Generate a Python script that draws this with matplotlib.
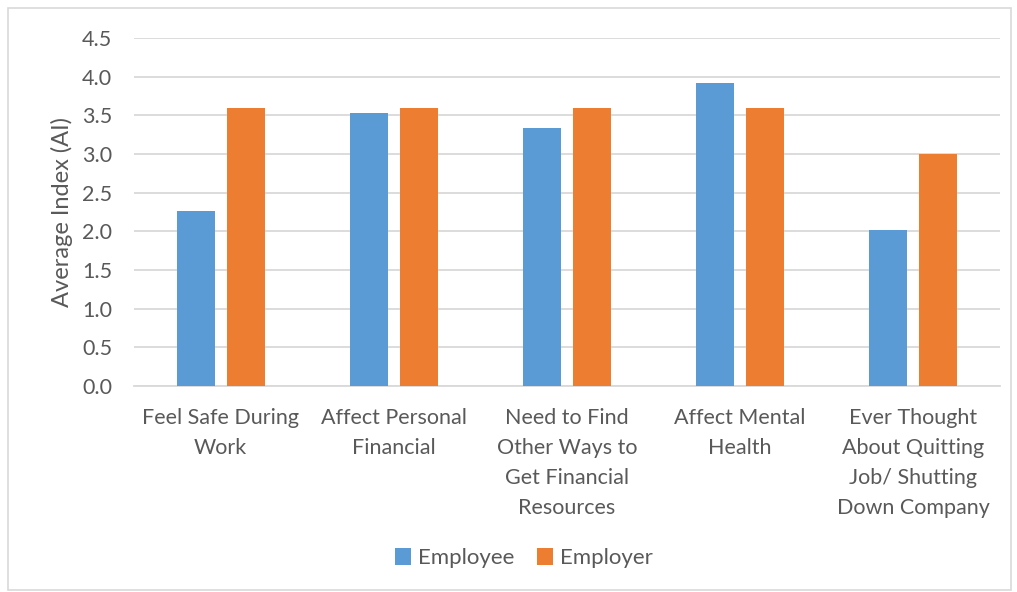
import numpy as np
import matplotlib.pyplot as plt
from matplotlib.patches import Rectangle

categories = ['Feel Safe During\nWork', 'Affect Personal\nFinancial',
              'Need to Find\nOther Ways to\nGet Financial\nResources',
              'Affect Mental\nHealth',
              'Ever Thought\nAbout Quitting\nJob/ Shutting\nDown Company']
employee = [2.26, 3.53, 3.34, 3.92, 2.02]
employer = [3.6, 3.6, 3.6, 3.6, 3.0]
yticks = [0.0, 0.5, 1.0, 1.5, 2.0, 2.5, 3.0, 3.5, 4.0, 4.5]

txt = '#595959'
plt.rcParams['font.family'] = ['Lato', 'DejaVu Sans']

fig = plt.figure(figsize=(10.17, 5.92), dpi=100)
ax = fig.add_axes([0.132, 0.348, 0.851, 0.588])

x = np.arange(len(categories))
w = 0.22
ax.bar(x - 0.144, employee, w, color='#5B9BD5', label='Employee', zorder=3)
ax.bar(x + 0.144, employer, w, color='#ED7D31', label='Employer', zorder=3)

ax.set_xlim(-0.5, len(categories) - 0.5)
ax.set_ylim(0, 4.5)
ax.set_yticks(yticks)
ax.set_yticklabels([f'{v:.1f}' for v in yticks], fontsize=15.5, color=txt)
ax.set_xticks(x)
ax.set_xticklabels(categories, fontsize=15.5, color=txt, linespacing=1.63)
ax.tick_params(axis='both', length=0)
ax.tick_params(axis='x', pad=16)
ax.tick_params(axis='y', pad=16)
ax.grid(axis='y', color='#d9d9d9', linewidth=1.3, zorder=0)
for s in ['top', 'right', 'left']:
    ax.spines[s].set_visible(False)
ax.spines['bottom'].set_color('#d9d9d9')
ax.spines['bottom'].set_linewidth(1.3)
ax.set_ylabel('Average Index (AI)', fontsize=17, color=txt, labelpad=6)

fig.legend(loc='center', bbox_to_anchor=(0.515, 0.057), ncol=2, frameon=False,
           fontsize=16, labelcolor=txt, handlelength=0.75, handleheight=0.75,
           handletextpad=0.3, columnspacing=1.0)

fig.patches.append(Rectangle((0.008, 0.003), 0.986, 0.984, transform=fig.transFigure,
                             fill=False, edgecolor='#d9d9d9', linewidth=1.2))

fig.savefig('out.png', dpi=100)
